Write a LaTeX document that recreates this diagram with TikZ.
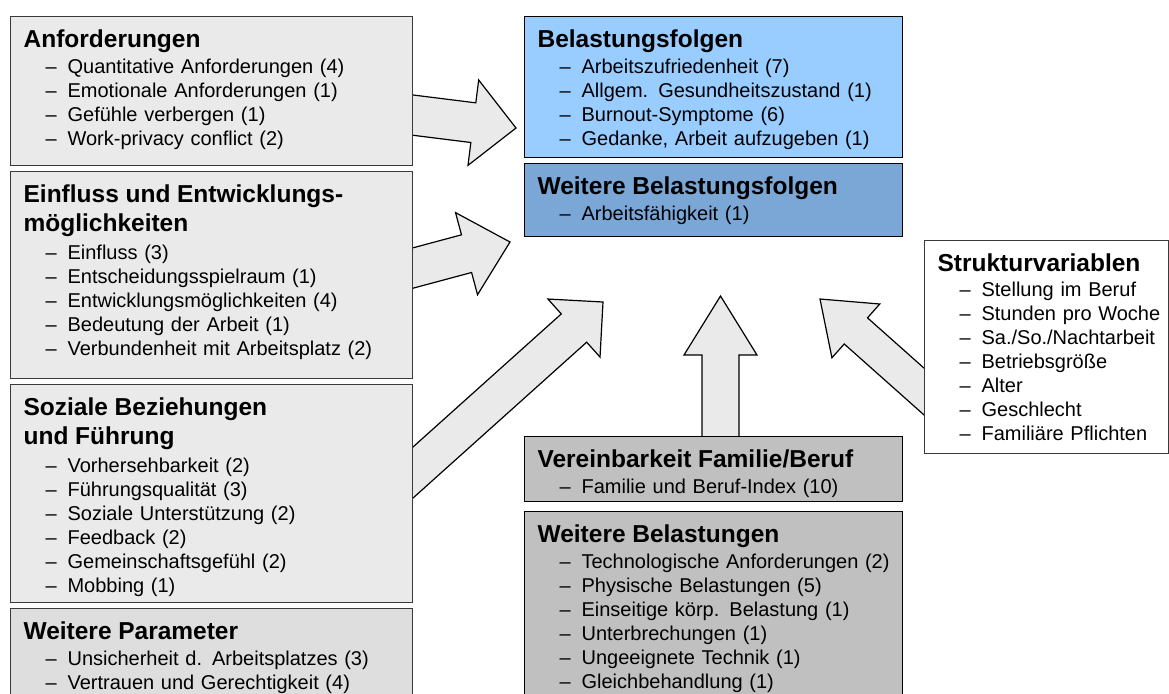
\documentclass[tikz,border=0pt]{standalone}
\usepackage{fontspec}
\setmainfont{Liberation Sans}
\usetikzlibrary{calc,backgrounds}
\definecolor{PaleGray}{HTML}{EAEAEA}
\definecolor{ParamGray}{HTML}{DEDEDE}
\definecolor{MidGray}{HTML}{C0C0C0}
\definecolor{SkyBlue}{HTML}{99CCFF}
\definecolor{DeepBlue}{HTML}{7BA7D7}
\definecolor{Frame}{HTML}{3A3A3A}
\newcommand{\ttl}[1]{\mbox{\fontsize{12.25}{14}\selectfont\bfseries #1}}
\newcommand{\itm}[1]{\mbox{\hspace*{11pt}\makebox[11pt][l]{–}#1}}
\tikzset{
 box/.style={draw=Frame, line width=0.6pt, anchor=north west, inner xsep=6.5pt, inner ysep=0pt, text height=15.5pt, align=left, font=\fontsize{10}{12}\selectfont},
 leftbox/.style={box, fill=PaleGray, text width=188pt},
 midbox/.style={box, draw=black, text width=176pt},
 bigarrow/.style={draw=black, fill=PaleGray, line width=0.6pt, line join=miter}
}
\begin{document}
\begin{tikzpicture}[x=0.5pt,y=-0.5pt]
\clip (0,0) rectangle (1169,693);
% left column
\node[leftbox, text depth=59pt] (anf) at (10,16) {\ttl{Anforderungen}\\[1pt]
 \itm{Quantitative Anforderungen (4)}\\ \itm{Emotionale Anforderungen (1)}\\
 \itm{Gefühle verbergen (1)}\\ \itm{Work-privacy conflict (2)}};
\node[leftbox, text depth=88pt] (einfl) at (10,171) {\ttl{Einfluss und Entwicklungs-}\\[2.5pt]\ttl{möglichkeiten}\\[2pt]
 \itm{Einfluss (3)}\\ \itm{Entscheidungsspielraum (1)}\\ \itm{Entwicklungsmöglichkeiten (4)}\\
 \itm{Bedeutung der Arbeit (1)}\\ \itm{Verbundenheit mit Arbeitsplatz (2)}};
\node[leftbox, text depth=93.5pt] (sozial) at (10,384) {\ttl{Soziale Beziehungen}\\[2.5pt]\ttl{und Führung}\\[2pt]
 \itm{Vorhersehbarkeit (2)}\\ \itm{Führungsqualität (3)}\\ \itm{Soziale Unterstützung (2)}\\
 \itm{Feedback (2)}\\ \itm{Gemeinschaftsgefühl (2)}\\ \itm{Mobbing (1)}};
\node[leftbox, fill=ParamGray, text depth=34.5pt] (param) at (10,608) {\ttl{Weitere Parameter}\\[1pt]
 \itm{Unsicherheit d. Arbeitsplatzes (3)}\\ \itm{Vertrauen und Gerechtigkeit (4)}};
% middle column
\node[midbox, fill=SkyBlue, text depth=55pt] (folgen) at (524,16) {\ttl{Belastungsfolgen}\\[1pt]
 \itm{Arbeitszufriedenheit (7)}\\ \itm{Allgem. Gesundheitszustand (1)}\\
 \itm{Burnout-Symptome (6)}\\ \itm{Gedanke, Arbeit aufzugeben (1)}};
\node[midbox, fill=DeepBlue, text depth=21pt] (wfolgen) at (524,163) {\ttl{Weitere Belastungsfolgen}\\[1pt]
 \itm{Arbeitsfähigkeit (1)}};
\node[midbox, fill=MidGray, text depth=17pt] (verein) at (524,436) {\ttl{Vereinbarkeit Familie/Beruf}\\[1pt]
 \itm{Familie und Beruf-Index (10)}};
\node[midbox, fill=MidGray, text depth=84.5pt] (wbel) at (524,511) {\ttl{Weitere Belastungen}\\[1pt]
 \itm{Technologische Anforderungen (2)}\\ \itm{Physische Belastungen (5)}\\
 \itm{Einseitige körp. Belastung (1)}\\ \itm{Unterbrechungen (1)}\\
 \itm{Ungeeignete Technik (1)}\\ \itm{Gleichbehandlung (1)}};
% right
\node[box, fill=white, text width=109pt, text depth=91pt] (struktur) at (924,240) {\ttl{Strukturvariablen}\\[0.5pt]
 \itm{Stellung im Beruf}\\ \itm{Stunden pro Woche}\\ \itm{Sa./So./Nachtarbeit}\\
 \itm{Betriebsgröße}\\ \itm{Alter}\\ \itm{Geschlecht}\\ \itm{Familiäre Pflichten}};
% arrow ends
\coordinate (anf-out) at (412,115);
\coordinate (folgen-in) at (516,128);
\coordinate (einfl-out) at (413,268);
\coordinate (folgen-in2) at (510,242);
\coordinate (sozial-out) at (413,472.5);
\coordinate (wfolgen-in) at (603,302);
\coordinate (verein-out) at (720.5,436);
\coordinate (wfolgen-in2) at (720.5,296);
\coordinate (struktur-out) at (924,391.5);
\coordinate (wfolgen-in3) at (820,299);
\begin{scope}[on background layer]
\foreach \src/\dst/\w/\h/\hw in {anf-out/folgen-in/10pt/21.5pt/21.5pt, einfl-out/folgen-in2/9.75pt/22.5pt/21.25pt,
 sozial-out/wfolgen-in/9.5pt/19.5pt/19.5pt, verein-out/wfolgen-in2/9.25pt/29.5pt/18.25pt,
 struktur-out/wfolgen-in3/8.75pt/24pt/18pt}{
 \coordinate (s) at ($(\dst)!1.25!(\src)$);
 \coordinate (b) at ($(\dst)!\h!(\src)$);
 \draw[bigarrow] ($(s)!\w!90:(\dst)$) -- ($(b)!\w!90:(\dst)$) -- ($(b)!\hw!90:(\dst)$) -- (\dst)
  -- ($(b)!\hw!-90:(\dst)$) -- ($(b)!\w!-90:(\dst)$) -- ($(s)!\w!-90:(\dst)$) -- cycle;
}
\end{scope}
\end{tikzpicture}
\end{document}
